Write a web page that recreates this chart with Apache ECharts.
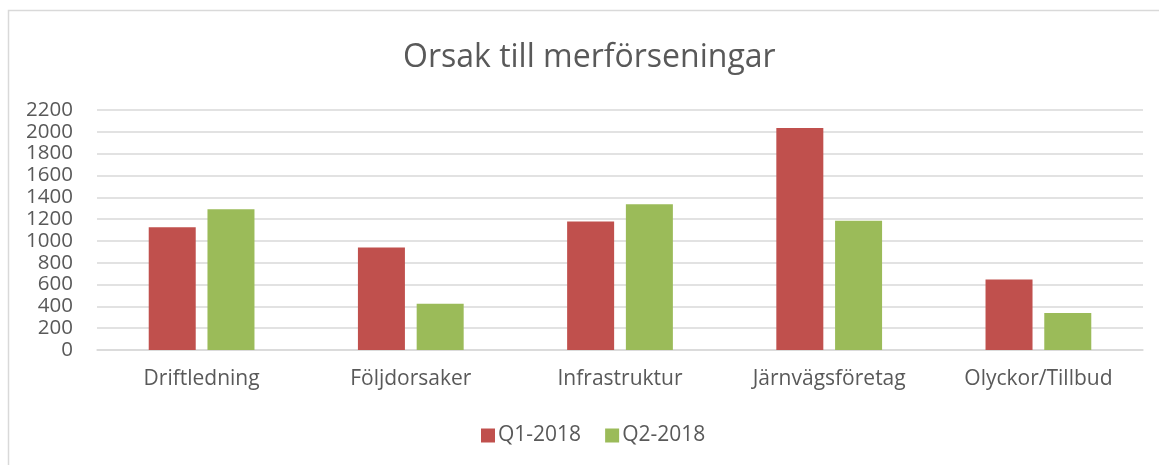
<!DOCTYPE html>
<html>
<head>
<meta charset="utf-8">
<script src="https://cdn.jsdelivr.net/npm/echarts@6/dist/echarts.min.js"></script>
<style>
  html, body { margin: 0; padding: 0; background: #fff; }
  #chart { width: 1159px; height: 465px; }
</style>
</head>
<body>
<div id="chart"></div>
<script>
const categories = ['Driftledning', 'Följdorsaker', 'Infrastruktur', 'Järnvägsföretag', 'Olyckor/Tillbud'];
const q1Values = [1125, 940, 1178, 2035, 646];
const q2Values = [1290, 425, 1337, 1184, 340];
const seriesNames = ['Q1-2018', 'Q2-2018'];

const textColor = '#595959';
const gridColor = '#D9D9D9';
const font = 'Open Sans';

const chart = echarts.init(document.getElementById('chart'));

const option = {
  backgroundColor: '#fff',
  animation: false,
  textStyle: { fontFamily: font },
  graphic: [
    {
      type: 'rect',
      shape: { x: 8.5, y: 10.5, width: 1200, height: 500 },
      style: { fill: 'none', stroke: gridColor, lineWidth: 1.5 },
      silent: true
    }
  ],
  title: {
    text: 'Orsak till merförseningar',
    left: 398,
    top: 37,
    textStyle: { color: textColor, fontSize: 32, fontWeight: 'normal', fontFamily: font }
  },
  legend: {
    data: seriesNames,
    bottom: 14,
    left: 476,
    icon: 'rect',
    itemWidth: 14,
    itemHeight: 14,
    itemGap: 24,
    textStyle: { color: textColor, fontSize: 21, fontFamily: font, padding: [0, 0, 0, -2] }
  },
  grid: {
    left: 97,
    right: 16,
    top: 110,
    bottom: 115,
    containLabel: false
  },
  xAxis: {
    type: 'category',
    data: categories,
    axisTick: { show: false },
    axisLine: { lineStyle: { color: gridColor, width: 1.5 } },
    axisLabel: { color: textColor, fontSize: 21, fontFamily: font, margin: 19 }
  },
  yAxis: {
    type: 'value',
    min: 0,
    max: 2200,
    interval: 200,
    axisLine: { show: false },
    axisTick: { show: false },
    splitLine: { lineStyle: { color: gridColor, width: 1.5 } },
    axisLabel: { color: textColor, fontSize: 20.5, fontFamily: font, margin: 24, formatter: v => String(v) }
  },
  series: [
    {
      name: seriesNames[0],
      type: 'bar',
      data: q1Values,
      barWidth: 47,
      barGap: '25%',
      itemStyle: { color: '#C0504D' }
    },
    {
      name: seriesNames[1],
      type: 'bar',
      data: q2Values,
      barWidth: 47,
      barGap: '25%',
      itemStyle: { color: '#9BBB59' }
    }
  ]
};

chart.setOption(option);
</script>
</body>
</html>
